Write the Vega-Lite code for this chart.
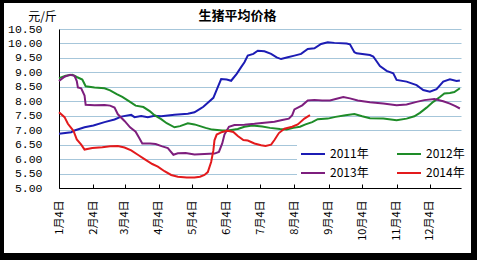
{
  "$schema": "https://vega.github.io/schema/vega-lite/v6.json",
  "width": 467,
  "height": 250,
  "autosize": {"type": "none"},
  "padding": {"left": 4, "top": 3, "right": 6, "bottom": 7},
  "background": "black",
  "config": {"view": {"fill": "white", "stroke": null}, "font": "Noto Sans CJK SC"},
  "title": {"text": "生猪平均价格", "fontSize": 13, "fontWeight": "bold", "color": "black", "anchor": "middle", "frame": "group", "offset": -20},
  "data": {"values": [
    {"year":"2011年","date":"2001-01-04","price":6.88},{"year":"2011年","date":"2001-01-15","price":6.93},{"year":"2011年","date":"2001-01-18","price":6.99},{"year":"2011年","date":"2001-01-27","price":7.10},{"year":"2011年","date":"2001-02-04","price":7.16},{"year":"2011年","date":"2001-02-14","price":7.28},{"year":"2011年","date":"2001-02-23","price":7.37},{"year":"2011年","date":"2001-03-01","price":7.47},{"year":"2011年","date":"2001-03-10","price":7.53},{"year":"2011年","date":"2001-03-13","price":7.45},{"year":"2011年","date":"2001-03-19","price":7.49},{"year":"2011年","date":"2001-03-25","price":7.45},{"year":"2011年","date":"2001-03-31","price":7.50},{"year":"2011年","date":"2001-04-06","price":7.48},{"year":"2011年","date":"2001-04-18","price":7.53},{"year":"2011年","date":"2001-04-30","price":7.57},{"year":"2011年","date":"2001-05-06","price":7.62},{"year":"2011年","date":"2001-05-11","price":7.74},{"year":"2011年","date":"2001-05-14","price":7.81},{"year":"2011年","date":"2001-05-18","price":7.95},{"year":"2011年","date":"2001-05-23","price":8.12},{"year":"2011年","date":"2001-05-27","price":8.49},{"year":"2011年","date":"2001-05-30","price":8.77},{"year":"2011年","date":"2001-06-04","price":8.75},{"year":"2011年","date":"2001-06-08","price":8.71},{"year":"2011年","date":"2001-06-13","price":8.95},{"year":"2011年","date":"2001-06-17","price":9.18},{"year":"2011年","date":"2001-06-20","price":9.35},{"year":"2011年","date":"2001-06-23","price":9.58},{"year":"2011年","date":"2001-06-28","price":9.64},{"year":"2011年","date":"2001-07-02","price":9.75},{"year":"2011年","date":"2001-07-08","price":9.73},{"year":"2011年","date":"2001-07-14","price":9.64},{"year":"2011年","date":"2001-07-19","price":9.52},{"year":"2011年","date":"2001-07-23","price":9.46},{"year":"2011年","date":"2001-07-29","price":9.52},{"year":"2011年","date":"2001-08-04","price":9.58},{"year":"2011年","date":"2001-08-10","price":9.64},{"year":"2011年","date":"2001-08-16","price":9.81},{"year":"2011年","date":"2001-08-22","price":9.83},{"year":"2011年","date":"2001-08-28","price":9.98},{"year":"2011年","date":"2001-09-03","price":10.04},{"year":"2011年","date":"2001-09-09","price":10.02},{"year":"2011年","date":"2001-09-20","price":10.00},{"year":"2011年","date":"2001-09-23","price":9.97},{"year":"2011年","date":"2001-09-27","price":9.70},{"year":"2011年","date":"2001-09-29","price":9.66},{"year":"2011年","date":"2001-10-11","price":9.60},{"year":"2011年","date":"2001-10-14","price":9.55},{"year":"2011年","date":"2001-10-20","price":9.22},{"year":"2011年","date":"2001-10-26","price":9.05},{"year":"2011年","date":"2001-11-01","price":8.97},{"year":"2011年","date":"2001-11-04","price":8.74},{"year":"2011年","date":"2001-11-13","price":8.68},{"year":"2011年","date":"2001-11-22","price":8.56},{"year":"2011年","date":"2001-11-28","price":8.39},{"year":"2011年","date":"2001-12-04","price":8.33},{"year":"2011年","date":"2001-12-10","price":8.42},{"year":"2011年","date":"2001-12-16","price":8.68},{"year":"2011年","date":"2001-12-22","price":8.76},{"year":"2011年","date":"2001-12-28","price":8.70},{"year":"2011年","date":"2001-12-31","price":8.72},
    {"year":"2012年","date":"2001-01-04","price":8.80},{"year":"2012年","date":"2001-01-10","price":8.88},{"year":"2012年","date":"2001-01-16","price":8.92},{"year":"2012年","date":"2001-01-20","price":8.84},{"year":"2012年","date":"2001-01-25","price":8.75},{"year":"2012年","date":"2001-01-28","price":8.52},{"year":"2012年","date":"2001-02-05","price":8.48},{"year":"2012年","date":"2001-02-14","price":8.45},{"year":"2012年","date":"2001-02-19","price":8.38},{"year":"2012年","date":"2001-02-25","price":8.25},{"year":"2012年","date":"2001-03-02","price":8.15},{"year":"2012年","date":"2001-03-09","price":7.98},{"year":"2012年","date":"2001-03-14","price":7.85},{"year":"2012年","date":"2001-03-21","price":7.80},{"year":"2012年","date":"2001-03-27","price":7.65},{"year":"2012年","date":"2001-03-31","price":7.52},{"year":"2012年","date":"2001-04-06","price":7.38},{"year":"2012年","date":"2001-04-11","price":7.24},{"year":"2012年","date":"2001-04-18","price":7.10},{"year":"2012年","date":"2001-04-23","price":7.14},{"year":"2012年","date":"2001-04-30","price":7.24},{"year":"2012年","date":"2001-05-06","price":7.20},{"year":"2012年","date":"2001-05-11","price":7.14},{"year":"2012年","date":"2001-05-16","price":7.08},{"year":"2012年","date":"2001-05-22","price":7.02},{"year":"2012年","date":"2001-05-31","price":6.99},{"year":"2012年","date":"2001-06-05","price":6.99},{"year":"2012年","date":"2001-06-14","price":7.04},{"year":"2012年","date":"2001-06-20","price":7.12},{"year":"2012年","date":"2001-06-27","price":7.16},{"year":"2012年","date":"2001-07-06","price":7.13},{"year":"2012年","date":"2001-07-13","price":7.08},{"year":"2012年","date":"2001-07-22","price":7.04},{"year":"2012年","date":"2001-07-28","price":7.02},{"year":"2012年","date":"2001-08-03","price":7.08},{"year":"2012年","date":"2001-08-09","price":7.12},{"year":"2012年","date":"2001-08-14","price":7.20},{"year":"2012年","date":"2001-08-20","price":7.28},{"year":"2012年","date":"2001-08-25","price":7.38},{"year":"2012年","date":"2001-09-03","price":7.40},{"year":"2012年","date":"2001-09-10","price":7.46},{"year":"2012年","date":"2001-09-19","price":7.52},{"year":"2012年","date":"2001-09-27","price":7.56},{"year":"2012年","date":"2001-10-04","price":7.48},{"year":"2012年","date":"2001-10-11","price":7.41},{"year":"2012年","date":"2001-10-23","price":7.40},{"year":"2012年","date":"2001-11-04","price":7.34},{"year":"2012年","date":"2001-11-13","price":7.40},{"year":"2012年","date":"2001-11-20","price":7.48},{"year":"2012年","date":"2001-11-25","price":7.60},{"year":"2012年","date":"2001-12-01","price":7.78},{"year":"2012年","date":"2001-12-07","price":7.98},{"year":"2012年","date":"2001-12-13","price":8.15},{"year":"2012年","date":"2001-12-17","price":8.27},{"year":"2012年","date":"2001-12-22","price":8.29},{"year":"2012年","date":"2001-12-26","price":8.32},{"year":"2012年","date":"2001-12-31","price":8.45},
    {"year":"2013年","date":"2001-01-04","price":8.70},{"year":"2013年","date":"2001-01-09","price":8.85},{"year":"2013年","date":"2001-01-14","price":8.92},{"year":"2013年","date":"2001-01-18","price":8.88},{"year":"2013年","date":"2001-01-20","price":8.70},{"year":"2013年","date":"2001-01-21","price":8.48},{"year":"2013年","date":"2001-01-24","price":8.45},{"year":"2013年","date":"2001-01-27","price":8.20},{"year":"2013年","date":"2001-01-28","price":7.88},{"year":"2013年","date":"2001-02-05","price":7.86},{"year":"2013年","date":"2001-02-14","price":7.87},{"year":"2013年","date":"2001-02-19","price":7.85},{"year":"2013年","date":"2001-02-23","price":7.78},{"year":"2013年","date":"2001-02-26","price":7.55},{"year":"2013年","date":"2001-03-04","price":7.32},{"year":"2013年","date":"2001-03-09","price":7.10},{"year":"2013年","date":"2001-03-14","price":6.95},{"year":"2013年","date":"2001-03-17","price":6.75},{"year":"2013年","date":"2001-03-20","price":6.54},{"year":"2013年","date":"2001-03-27","price":6.54},{"year":"2013年","date":"2001-04-01","price":6.52},{"year":"2013年","date":"2001-04-07","price":6.44},{"year":"2013年","date":"2001-04-12","price":6.38},{"year":"2013年","date":"2001-04-17","price":6.15},{"year":"2013年","date":"2001-04-21","price":6.20},{"year":"2013年","date":"2001-04-28","price":6.21},{"year":"2013年","date":"2001-05-06","price":6.16},{"year":"2013年","date":"2001-05-15","price":6.18},{"year":"2013年","date":"2001-05-24","price":6.19},{"year":"2013年","date":"2001-05-28","price":6.25},{"year":"2013年","date":"2001-05-31","price":6.54},{"year":"2013年","date":"2001-06-02","price":6.85},{"year":"2013年","date":"2001-06-06","price":7.12},{"year":"2013年","date":"2001-06-11","price":7.18},{"year":"2013年","date":"2001-06-20","price":7.19},{"year":"2013年","date":"2001-06-29","price":7.22},{"year":"2013年","date":"2001-07-08","price":7.26},{"year":"2013年","date":"2001-07-17","price":7.29},{"year":"2013年","date":"2001-07-24","price":7.35},{"year":"2013年","date":"2001-07-30","price":7.40},{"year":"2013年","date":"2001-08-02","price":7.52},{"year":"2013年","date":"2001-08-04","price":7.72},{"year":"2013年","date":"2001-08-11","price":7.86},{"year":"2013年","date":"2001-08-16","price":8.03},{"year":"2013年","date":"2001-08-22","price":8.04},{"year":"2013年","date":"2001-08-29","price":8.03},{"year":"2013年","date":"2001-09-05","price":8.03},{"year":"2013年","date":"2001-09-11","price":8.09},{"year":"2013年","date":"2001-09-17","price":8.15},{"year":"2013年","date":"2001-09-23","price":8.10},{"year":"2013年","date":"2001-09-30","price":8.03},{"year":"2013年","date":"2001-10-11","price":7.97},{"year":"2013年","date":"2001-10-23","price":7.92},{"year":"2013年","date":"2001-11-04","price":7.86},{"year":"2013年","date":"2001-11-13","price":7.89},{"year":"2013年","date":"2001-11-22","price":7.98},{"year":"2013年","date":"2001-11-29","price":8.04},{"year":"2013年","date":"2001-12-08","price":8.08},{"year":"2013年","date":"2001-12-16","price":8.00},{"year":"2013年","date":"2001-12-22","price":7.92},{"year":"2013年","date":"2001-12-27","price":7.83},{"year":"2013年","date":"2001-12-31","price":7.75},
    {"year":"2014年","date":"2001-01-04","price":7.62},{"year":"2014年","date":"2001-01-09","price":7.45},{"year":"2014年","date":"2001-01-12","price":7.22},{"year":"2014年","date":"2001-01-17","price":6.98},{"year":"2014年","date":"2001-01-20","price":6.68},{"year":"2014年","date":"2001-01-24","price":6.50},{"year":"2014年","date":"2001-01-27","price":6.33},{"year":"2014年","date":"2001-02-03","price":6.38},{"year":"2014年","date":"2001-02-12","price":6.41},{"year":"2014年","date":"2001-02-19","price":6.44},{"year":"2014年","date":"2001-02-26","price":6.45},{"year":"2014年","date":"2001-03-04","price":6.40},{"year":"2014年","date":"2001-03-10","price":6.30},{"year":"2014年","date":"2001-03-16","price":6.15},{"year":"2014年","date":"2001-03-22","price":6.00},{"year":"2014年","date":"2001-03-29","price":5.83},{"year":"2014年","date":"2001-04-03","price":5.74},{"year":"2014年","date":"2001-04-09","price":5.58},{"year":"2014年","date":"2001-04-15","price":5.45},{"year":"2014年","date":"2001-04-21","price":5.39},{"year":"2014年","date":"2001-04-29","price":5.36},{"year":"2014年","date":"2001-05-06","price":5.36},{"year":"2014年","date":"2001-05-11","price":5.39},{"year":"2014年","date":"2001-05-15","price":5.45},{"year":"2014年","date":"2001-05-18","price":5.55},{"year":"2014年","date":"2001-05-21","price":5.90},{"year":"2014年","date":"2001-05-23","price":6.30},{"year":"2014年","date":"2001-05-24","price":6.65},{"year":"2014年","date":"2001-05-26","price":6.85},{"year":"2014年","date":"2001-05-31","price":6.94},{"year":"2014年","date":"2001-06-05","price":6.98},{"year":"2014年","date":"2001-06-10","price":6.94},{"year":"2014年","date":"2001-06-14","price":6.80},{"year":"2014年","date":"2001-06-19","price":6.66},{"year":"2014年","date":"2001-06-23","price":6.64},{"year":"2014年","date":"2001-06-29","price":6.54},{"year":"2014年","date":"2001-07-05","price":6.48},{"year":"2014年","date":"2001-07-09","price":6.45},{"year":"2014年","date":"2001-07-14","price":6.50},{"year":"2014年","date":"2001-07-17","price":6.66},{"year":"2014年","date":"2001-07-21","price":6.90},{"year":"2014年","date":"2001-07-26","price":7.05},{"year":"2014年","date":"2001-08-02","price":7.12},{"year":"2014年","date":"2001-08-07","price":7.20},{"year":"2014年","date":"2001-08-13","price":7.40},{"year":"2014年","date":"2001-08-18","price":7.52}
  ]},
  "mark": {"type": "line", "clip": true},
  "encoding": {
    "x": {
      "field": "date", "type": "temporal",
      "scale": {"type": "utc", "domain": [{"year": 2001, "month": 1, "date": 4, "utc": true}, {"year": 2002, "month": 1, "date": 1, "utc": true}], "range": [55, 457], "nice": false},
      "axis": {
        "values": [
          {"year": 2001, "month": 1, "date": 4, "utc": true}, {"year": 2001, "month": 2, "date": 4, "utc": true},
          {"year": 2001, "month": 3, "date": 4, "utc": true}, {"year": 2001, "month": 4, "date": 4, "utc": true},
          {"year": 2001, "month": 5, "date": 4, "utc": true}, {"year": 2001, "month": 6, "date": 4, "utc": true},
          {"year": 2001, "month": 7, "date": 4, "utc": true}, {"year": 2001, "month": 8, "date": 4, "utc": true},
          {"year": 2001, "month": 9, "date": 4, "utc": true}, {"year": 2001, "month": 10, "date": 4, "utc": true},
          {"year": 2001, "month": 11, "date": 4, "utc": true}, {"year": 2001, "month": 12, "date": 4, "utc": true}
        ],
        "format": "%-m月%-d日",
        "title": null,
        "grid": false,
        "offset": -65,
        "labelAngle": 270,
        "labelFont": "Noto Sans CJK SC",
        "labelFontSize": 11,
        "labelColor": "black",
        "labelPadding": 16,
        "labelFlush": false,
        "labelOverlap": false,
        "labelBound": false,
        "domainColor": "black",
        "domainWidth": 1,
        "tickColor": "black",
        "tickSize": -4
      }
    },
    "y": {
      "field": "price", "type": "quantitative",
      "scale": {"domain": [5, 10.5], "range": [185, 26], "nice": false, "zero": false},
      "axis": {
        "values": [5, 5.5, 6, 6.5, 7, 7.5, 8, 8.5, 9, 9.5, 10, 10.5],
        "format": ".2f",
        "offset": -55,
        "grid": true,
        "gridColor": "#a6c6da",
        "gridWidth": 1,
        "domainColor": "black",
        "ticks": false,
        "labelPadding": 17,
        "labelFont": "Liberation Mono",
        "labelFontSize": 11.5,
        "labelColor": "black",
        "labelFlush": false,
        "labelOverlap": false,
        "title": "元/斤",
        "titleAngle": 0,
        "titleX": -17,
        "titleY": 13,
        "titleAlign": "center",
        "titleBaseline": "middle",
        "titleFont": "Noto Sans CJK SC",
        "titleFontSize": 12,
        "titleFontWeight": "normal",
        "titleColor": "black"
      }
    },
    "color": {
      "field": "year", "type": "nominal",
      "scale": {"domain": ["2011年", "2012年", "2013年", "2014年"], "range": ["#1c1cb4", "#1e8c28", "#7d1e7d", "#e31a1c"]},
      "legend": {
        "orient": "none",
        "legendX": 293,
        "legendY": 135,
        "direction": "horizontal",
        "columns": 2,
        "title": null,
        "symbolType": "stroke",
        "symbolSize": 576,
        "symbolStrokeWidth": 2,
        "labelFont": "Noto Sans CJK SC",
        "labelFontSize": 12,
        "labelColor": "black",
        "labelOffset": 4,
        "fillColor": "white",
        "padding": 3,
        "rowPadding": -5,
        "columnPadding": 24,
        "encode": {"symbols": {"update": {"strokeWidth": {"signal": "datum.value === '2014年' ? 4 : 2"}}}}
      }
    },
    "strokeWidth": {
      "field": "year", "type": "nominal",
      "scale": {"domain": ["2011年", "2012年", "2013年", "2014年"], "range": [2, 2, 2, 4]},
      "legend": null
    }
  }
}
